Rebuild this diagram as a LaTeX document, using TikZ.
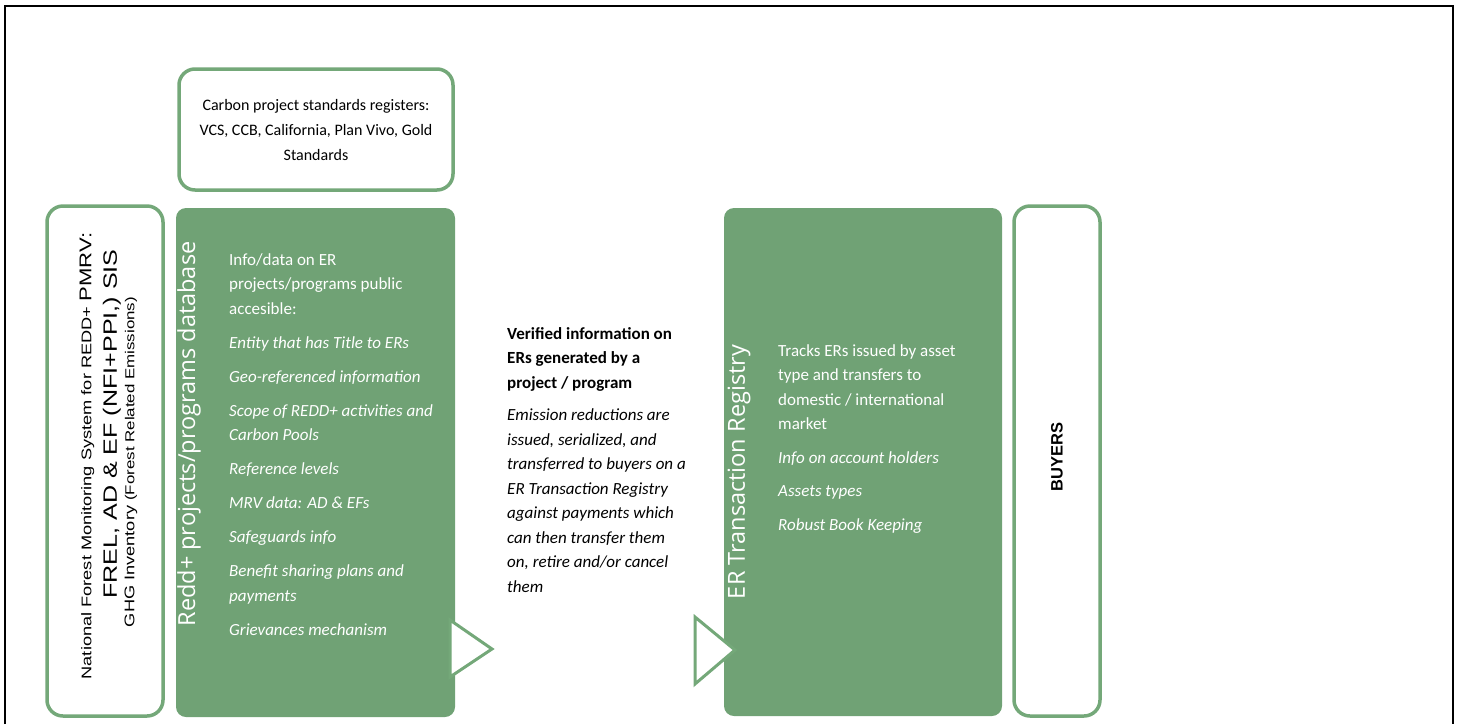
\documentclass[tikz,border=0pt]{standalone}
\usepackage{fontspec}
\setmainfont{Carlito}
\newfontfamily\arialfont{Liberation Sans}
\newfontfamily\opensansfont{Open Sans}
\definecolor{leafgreen}{RGB}{112,162,117}
\definecolor{edgegreen}{RGB}{116,168,121}

\begin{document}
\begin{tikzpicture}[x=1pt,y=-1pt,
  greenbox/.style={fill=leafgreen,rounded corners=10pt,inner sep=0pt},
  whitebox/.style={draw=edgegreen,line width=3.5pt,fill=white,rounded corners=16pt,inner sep=0pt},
  notch/.style={draw=edgegreen,line width=3pt,fill=white,line join=miter},
  sidelabel/.style={rotate=90,text=white,font=\opensansfont\fontsize{23.5}{28}\selectfont},
  upright/.style={rotate=90,xscale=1.3,inner sep=0pt},
  bodytext/.style={anchor=north west,align=left,inner sep=0pt,font=\fontsize{17}{24.5}\selectfont}]
\useasboundingbox (0,0) rectangle (1460,724);

% outer frame, open at the bottom
\draw[line width=2pt] (5,724) -- (5,6) -- (1453,6) -- (1453,724);

% standards registers on top
\node[whitebox,minimum width=274pt,minimum height=121pt,align=center,
  font=\fontsize{16}{25}\selectfont] (standards) at (316,129.5)
  {Carbon project standards registers:\\VCS, CCB, California, Plan Vivo, Gold\\Standards};

% monitoring system
\node[whitebox,minimum width=116pt,minimum height=510pt] (nfms) at (105,461) {};
\node[upright,font=\arialfont\fontsize{14}{17}\selectfont] (nfmsone) at (87,456)
  {National Forest Monitoring System for REDD+ {\fontsize{17}{20}\selectfont PMRV:}};
\node[upright,font=\arialfont\fontsize{19.3}{22}\selectfont] (nfmstwo) at (112,424)
  {FREL, AD \& EF (NFI+PPI,) SIS};
\node[upright,font=\arialfont\fontsize{14}{17}\selectfont] (nfmsthree) at (131,462)
  {GHG Inventory {\fontsize{13}{16}\selectfont (Forest Related Emissions)}};

% projects database
\node[greenbox,minimum width=279pt,minimum height=509pt] (redd) at (315.5,462.5) {};
\draw[notch] (450,620) -- (492,649) -- (450,677) -- cycle;
\node[sidelabel] (reddlabel) at (189,434) {Redd+ projects/programs database};
\node[bodytext,text=white] (reddinfo) at (229,253)
  {Info/data on ER\\projects/programs public\\accesible:\\[9.5pt]
   \textit{Entity that has Title to ERs}\\[9.5pt]
   \textit{Geo-referenced information}\\[9.5pt]
   \textit{Scope of REDD+ activities and}\\\textit{Carbon Pools}\\[9.5pt]
   \textit{Reference levels}\\[9.5pt]
   \textit{MRV data: AD \& EFs}\\[9.5pt]
   \textit{Safeguards info}\\[9.5pt]
   \textit{Benefit sharing plans and}\\\textit{payments}\\[9.5pt]
   \textit{Grievances mechanism}};

% verified information
\node[bodytext] (verified) at (507,327)
  {\textbf{Verified information on}\\\textbf{ERs generated by a}\\\textbf{project / program}\\[8pt]
   \textit{Emission reductions are}\\\textit{issued, serialized, and}\\
   \textit{transferred to buyers on a}\\\textit{ER Transaction Registry}\\
   \textit{against payments which}\\\textit{can then transfer them}\\
   \textit{on, retire and/or cancel}\\\textit{them}};

% transaction registry
\node[greenbox,minimum width=278pt,minimum height=508pt] (registry) at (863,462) {};
\draw[notch] (695,617) -- (735,650) -- (695,684) -- cycle;
\node[sidelabel] (registrylabel) at (739,472) {ER Transaction Registry};
\node[bodytext,text=white] (tracks) at (778,344)
  {Tracks ERs issued by asset\\type and transfers to\\domestic / international\\market\\[9pt]
   \textit{Info on account holders}\\[9pt]
   \textit{Assets types}\\[9pt]
   \textit{Robust Book Keeping}};

% buyers
\node[whitebox,minimum width=86pt,minimum height=510pt] (buyers) at (1057,461) {};
\node[rotate=90,font=\arialfont\bfseries\fontsize{16.5}{20}\selectfont] (buyerstext) at (1057,457) {BUYERS};
\end{tikzpicture}
\end{document}
